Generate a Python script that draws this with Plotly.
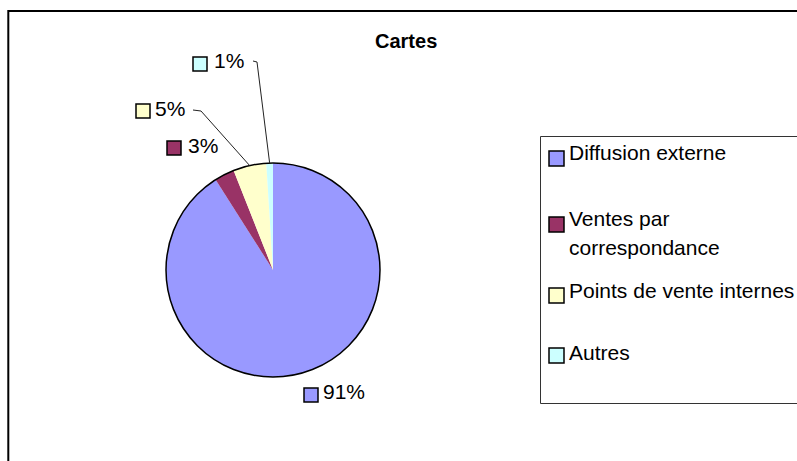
import math
import plotly.graph_objects as go

# ---- data ----
categories = ["Diffusion externe", "Ventes par correspondance",
              "Points de vente internes", "Autres"]
values = [91, 3, 5, 1]
colors = ["#9999FF", "#993366", "#FFFFCC", "#CCFFFF"]
title_text = "Cartes"

# ---- canvas / layout constants (pixels) ----
W, H = 797, 461
FONT = "Liberation Sans, Arial, sans-serif"
FS = 21
CX, CY, R = 273, 270, 107          # pie centre and radius

# label anchors per slice: square left, square top, text left, text baseline
pct_pos = [(304, 388, 323, 399),
           (167, 141, 188, 153),
           (136, 104, 155, 116),
           (193, 57, 214, 68)]
# leader line start and elbow for slices that get a leader (by index)
leaders = {2: [(193, 110), (201, 111)],
           3: [(253, 61), (257, 62)]}

# legend rows: square top, text baselines
legend_rows = [(151, [160]),
               (217, [226, 255]),
               (288, [298]),
               (348, [360])]


def px(x):
    return x / W


def py(y):
    return 1 - y / H


def wrap(label, width=24):
    words, lines, cur = label.split(), [], ""
    for w in words:
        test = (cur + " " + w).strip()
        if len(test) > width and cur:
            lines.append(cur)
            cur = w
        else:
            cur = test
    lines.append(cur)
    return lines


fig = go.Figure()
fig.add_trace(go.Pie(
    labels=categories,
    values=values,
    sort=False,
    direction="clockwise",
    rotation=0,
    marker=dict(colors=colors, line=dict(width=0)),
    textinfo="none",
    hoverinfo="label+percent",
    showlegend=False,
    domain=dict(x=[px(CX - R), px(CX + R)], y=[py(CY + R), py(CY - R)]),
))

shapes = []
annotations = []

# outer chart frame
shapes.append(dict(type="rect", xref="paper", yref="paper",
                   x0=px(8.3), x1=px(W + 20), y0=py(11), y1=py(H + 20),
                   line=dict(color="black", width=2), fillcolor="rgba(0,0,0,0)"))

# pie outline
shapes.append(dict(type="circle", xref="paper", yref="paper",
                   x0=px(CX - R), x1=px(CX + R), y0=py(CY + R), y1=py(CY - R),
                   line=dict(color="black", width=1.5)))

total = sum(values)
cum = 0
for i, v in enumerate(values):
    mid = (cum + v / 2) / total * 2 * math.pi
    cum += v
    sx, sy, tx, tb = pct_pos[i]
    shapes.append(dict(type="rect", xref="paper", yref="paper",
                       x0=px(sx), x1=px(sx + 14), y0=py(sy + 14), y1=py(sy),
                       line=dict(color="black", width=1.5), fillcolor=colors[i]))
    annotations.append(dict(xref="paper", yref="paper", x=px(tx - 2), y=py(tb - 7.25),
                            xanchor="left", yanchor="middle", showarrow=False,
                            text=f"{round(v / total * 100)}%",
                            font=dict(family=FONT, size=FS, color="black")))
    if i in leaders:
        ex = CX + R * math.sin(mid)
        ey = CY - R * math.cos(mid)
        pts = leaders[i] + [(ex, ey)]
        path = "M " + " L ".join(f"{px(x)},{py(y)}" for x, y in pts)
        shapes.append(dict(type="path", xref="paper", yref="paper", path=path,
                           line=dict(color="#222222", width=1)))

# legend box
shapes.append(dict(type="rect", xref="paper", yref="paper",
                   x0=px(540.5), x1=px(W + 20), y0=py(403.5), y1=py(136.5),
                   line=dict(color="#333333", width=1), fillcolor="rgba(0,0,0,0)"))
for i, name in enumerate(categories):
    top, baselines = legend_rows[i]
    shapes.append(dict(type="rect", xref="paper", yref="paper",
                       x0=px(549), x1=px(564), y0=py(top + 15), y1=py(top),
                       line=dict(color="black", width=1.5), fillcolor=colors[i]))
    for line_txt, b in zip(wrap(name), baselines):
        annotations.append(dict(xref="paper", yref="paper", x=px(567), y=py(b - 7.25),
                                xanchor="left", yanchor="middle", showarrow=False,
                                text=line_txt,
                                font=dict(family=FONT, size=FS, color="black")))

# title
annotations.append(dict(xref="paper", yref="paper", x=px(405.5), y=py(41),
                        xanchor="center", yanchor="middle", showarrow=False,
                        text=f"<b>{title_text}</b>",
                        font=dict(family=FONT, size=20, color="black")))

fig.update_layout(
    width=W, height=H,
    margin=dict(l=0, r=0, t=0, b=0),
    paper_bgcolor="white", plot_bgcolor="white",
    shapes=shapes, annotations=annotations,
    showlegend=False,
)

fig.write_html("out.html")
